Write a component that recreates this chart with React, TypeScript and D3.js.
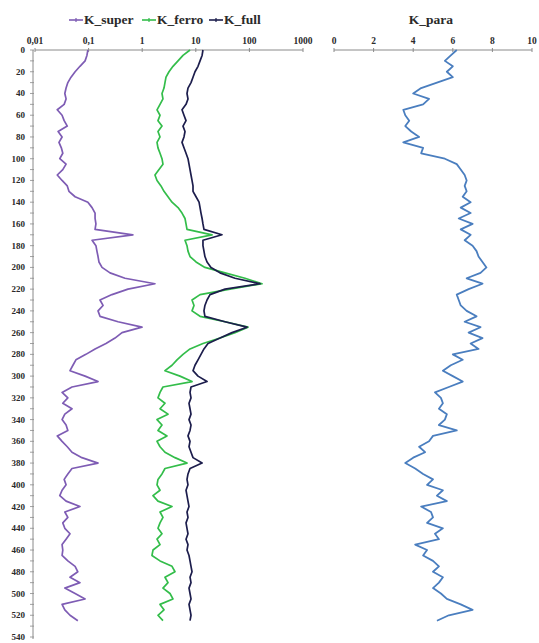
import React from 'react';
import * as d3 from 'd3';

// depth (m), shared by all curves
const depth = d3.range(0, 530, 5);

const kSuper = [
  0.097, 0.093, 0.086, 0.069, 0.056, 0.047, 0.041, 0.038, 0.036, 0.038,
  0.035, 0.026, 0.032, 0.035, 0.040, 0.027, 0.032, 0.028, 0.031, 0.033,
  0.029, 0.038, 0.033, 0.026, 0.032, 0.040, 0.043, 0.056, 0.097, 0.116,
  0.132, 0.132, 0.137, 0.132, 0.67, 0.116, 0.137, 0.143, 0.150, 0.156,
  0.178, 0.251, 0.478, 1.73, 0.543, 0.273, 0.163, 0.186, 0.150, 0.163,
  0.354, 0.99, 0.42, 0.311, 0.211, 0.132, 0.089, 0.058, 0.051, 0.045,
  0.086, 0.150, 0.049, 0.032, 0.041, 0.033, 0.049, 0.036, 0.032, 0.038,
  0.041, 0.026, 0.032, 0.040, 0.049, 0.075, 0.150, 0.049, 0.041, 0.035,
  0.038, 0.032, 0.029, 0.038, 0.069, 0.036, 0.041, 0.033, 0.036, 0.045,
  0.038, 0.032, 0.033, 0.032, 0.041, 0.056, 0.063, 0.045, 0.069, 0.036,
  0.056, 0.086, 0.032, 0.036, 0.045, 0.063
];

const kFerro = [
  7.8, 5.77, 4.66, 3.75, 3.16, 2.78, 2.66, 2.55, 2.34, 2.44,
  2.15, 1.89, 2.15, 1.97, 2.34, 1.97, 2.15, 1.89, 1.97, 2.15,
  2.34, 2.44, 2.06, 1.73, 1.89, 2.24, 2.55, 3.03, 3.6, 4.66,
  5.53, 6.29, 6.57, 6.85, 20.1, 6.29, 6.85, 7.15, 7.8, 10.1,
  14.8, 35.1, 82.8, 172, 43.5, 12.0, 8.5, 9.26, 8.5, 12.0,
  35.1, 94.2, 53.9, 28.3, 13.6, 7.8, 5.77, 4.46, 3.6, 2.66,
  5.07, 8.5, 2.44, 2.15, 1.97, 2.66, 2.15, 3.03, 1.89, 2.34,
  1.97, 2.9, 1.89, 2.15, 2.66, 4.09, 6.85, 2.66, 2.34, 1.97,
  1.89, 2.15, 1.59, 1.97, 3.6, 2.15, 2.44, 2.15, 1.97, 2.34,
  1.89, 2.15, 1.59, 1.52, 2.15, 3.6, 4.09, 2.66, 3.03, 2.44,
  3.3, 3.75, 2.15, 2.55, 1.97, 2.44
];

const kFull = [
  13.6, 13.1, 12.0, 11.0, 9.66, 8.87, 8.14, 7.15, 6.85, 7.15,
  6.57, 5.53, 6.02, 6.57, 5.77, 6.29, 6.02, 5.53, 6.02, 6.57,
  7.15, 7.47, 7.8, 8.14, 8.5, 8.87, 8.87, 10.1, 11.5, 12.0,
  12.5, 13.1, 13.6, 14.2, 30.8, 13.6, 13.6, 14.2, 14.8, 16.2,
  19.2, 28.3, 53.9, 158, 35.1, 18.4, 16.2, 14.8, 14.2, 14.8,
  35.1, 90.2, 47.4, 28.3, 16.9, 14.2, 12.5, 11.0, 9.66, 8.87,
  11.0, 16.2, 8.14, 7.8, 8.14, 7.47, 7.8, 8.14, 7.47, 8.14,
  7.8, 7.15, 7.8, 7.47, 8.14, 8.87, 13.1, 7.8, 7.15, 6.85,
  7.15, 6.57, 6.85, 7.15, 7.47, 6.85, 7.15, 6.57, 6.85, 7.15,
  6.57, 7.15, 6.85, 7.47, 7.8, 8.14, 8.5, 7.8, 8.14, 7.47,
  7.8, 8.14, 7.47, 7.8, 8.14, 7.8
];

const kPara = [
  6.2, 5.9, 5.6, 6.0, 5.7, 6.0, 5.2, 4.4, 4.0, 4.8,
  4.5, 3.5, 3.6, 3.8, 3.6, 3.9, 4.3, 3.5, 4.5, 4.4,
  5.6, 6.2, 6.4, 6.6, 6.7, 6.6, 6.7, 6.5, 6.9, 6.4,
  6.9, 6.3, 7.0, 6.4, 6.9, 6.6, 7.0, 7.2, 7.3, 7.5,
  7.7, 7.4, 6.7, 7.5, 6.8, 6.2, 6.3, 6.4, 6.7, 7.2,
  6.6, 7.4, 6.8, 7.5, 6.9, 7.3, 6.0, 6.5, 5.9, 5.5,
  6.0, 6.5, 5.8, 5.1, 5.4, 5.5, 5.3, 5.7, 5.6, 5.3,
  6.2, 5.0, 4.8, 4.3, 4.6, 4.0, 3.6, 4.1, 4.5, 5.0,
  4.7, 5.5, 5.2, 5.7, 4.4, 4.9, 5.0, 4.7, 5.5, 5.1,
  5.3, 4.1, 4.7, 4.5, 5.0, 5.3, 5.0, 5.5, 5.3, 5.0,
  5.4, 5.7, 6.4, 7.0, 5.8, 5.2
];

const logTicks = [0.01, 0.1, 1, 10, 100, 1000];
const logTickLabels = ['0,01', '0,1', '1', '10', '100', '1000'];
const linTicks = [0, 2, 4, 6, 8, 10];
const depthTicks = d3.range(0, 541, 20);
const depthMinor = d3.range(0, 541, 10);

const leftSeries = [
  { name: 'K_super', values: kSuper, color: '#7e5cb4' },
  { name: 'K_ferro', values: kFerro, color: '#33bd4a' },
  { name: 'K_full', values: kFull, color: '#1c1d4c' }
];

const font = '"Liberation Serif", "Times New Roman", serif';

export default function App() {
  const W = 539;
  const H = 643;

  const y = d3.scaleLinear().domain([0, 540]).range([50, 637]);
  const xLog = d3.scaleLog().domain([0.01, 1000]).range([35, 303]);
  const xLin = d3.scaleLinear().domain([0, 10]).range([334, 532]);

  const leftLine = (vals: number[]) =>
    d3.line<number>()
      .x(v => xLog(v))
      .y((_, i) => y(depth[i]))(vals) || '';

  const paraLine = d3.line<number>()
    .x(v => xLin(v))
    .y((_, i) => y(depth[i]))(kPara) || '';

  const axisColor = '#8a8a8a';
  const labelColor = '#2a2a2a';

  const legendX = [69, 142, 209];

  return (
    <svg width={W} height={H} style={{ position: 'absolute', left: 0, top: 0, background: '#fff', fontFamily: font }}>
      {/* legend */}
      {leftSeries.map((s, i) => (
        <g key={s.name} transform={`translate(${legendX[i]}, 20)`}>
          <line x1={0} y1={0} x2={14} y2={0} stroke={s.color} strokeWidth={1.6} />
          <line x1={7} y1={-2} x2={7} y2={2} stroke={s.color} strokeWidth={1.2} />
          <text x={15} y={4} fontSize={13.5} fontWeight="bold" fill={labelColor}>{s.name}</text>
        </g>
      ))}
      <text x={431} y={24} textAnchor="middle" fontSize={13.5} fontWeight="bold" fill={labelColor}>K_para</text>

      {/* left top axis */}
      <line x1={xLog(0.01)} y1={50} x2={xLog(1000)} y2={50} stroke={axisColor} strokeWidth={1} />
      {logTicks.map((t, i) => (
        <g key={`lt-${t}`}>
          <line x1={xLog(t)} y1={48} x2={xLog(t)} y2={52} stroke={axisColor} />
          <text x={xLog(t)} y={44} textAnchor="middle" fontSize={9.5} fontWeight="bold" fill={labelColor}>
            {logTickLabels[i]}
          </text>
        </g>
      ))}

      {/* right top axis */}
      <line x1={xLin(0)} y1={50} x2={xLin(10)} y2={50} stroke={axisColor} strokeWidth={1} />
      {linTicks.map(t => (
        <g key={`rt-${t}`}>
          <line x1={xLin(t)} y1={48} x2={xLin(t)} y2={52} stroke={axisColor} />
          <text x={xLin(t)} y={44} textAnchor="middle" fontSize={9.5} fontWeight="bold" fill={labelColor}>
            {t}
          </text>
        </g>
      ))}

      {/* depth axis */}
      <line x1={33} y1={50} x2={33} y2={y(540) + 2} stroke={axisColor} strokeWidth={1} />
      {depthMinor.map(d => (
        <line key={`dm-${d}`} x1={30} y1={y(d)} x2={34} y2={y(d)} stroke={axisColor} strokeWidth={0.8} />
      ))}
      {depthTicks.map(d => (
        <text key={`dt-${d}`} x={25} y={y(d) + 3} textAnchor="end" fontSize={9} fontWeight="bold" fill={labelColor}>
          {d}
        </text>
      ))}

      {/* curves */}
      {leftSeries.map(s => (
        <path key={s.name} d={leftLine(s.values)} fill="none" stroke={s.color} strokeWidth={1.7} strokeLinejoin="round" />
      ))}
      <path d={paraLine} fill="none" stroke="#4a7ebf" strokeWidth={1.8} strokeLinejoin="round" />
    </svg>
  );
}
